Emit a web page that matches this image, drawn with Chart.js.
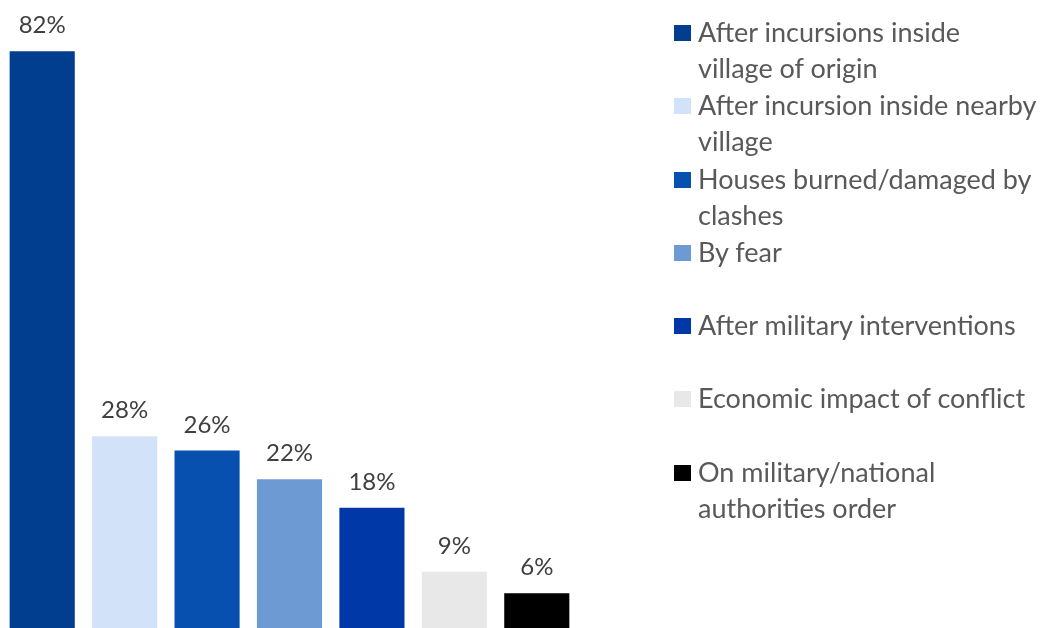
<!DOCTYPE html>
<html>
<head>
<meta charset="utf-8">
<script src="https://cdn.jsdelivr.net/npm/chart.js@4.4.0/dist/chart.umd.min.js"></script>
<style>
  html, body { margin: 0; padding: 0; background: #fff; overflow: hidden; }
  #wrap { position: relative; width: 1044px; height: 640px; }
  #legend { position: absolute; left: 674px; top: 15px; font-family: Lato, sans-serif; font-size: 27px; color: #595959; }
  .item { position: relative; height: 73.3px; }
  .box { position: absolute; left: 0; top: 10px; width: 17px; height: 16px; }
  .txt { position: absolute; left: 24px; top: -1px; line-height: 36px; white-space: nowrap; }
</style>
</head>
<body>
<div id="wrap">
  <canvas id="chart" width="1044" height="640"></canvas>
  <div id="legend"></div>
</div>
<script>
// reasons for displacement, in % of respondents
const categories = [
  ["After incursions inside", "village of origin"],
  ["After incursion inside nearby", "village"],
  ["Houses burned/damaged by", "clashes"],
  ["By fear"],
  ["After military interventions"],
  ["Economic impact of conflict"],
  ["On military/national", "authorities order"]
];
const values = [82, 28, 26, 22, 18, 9, 6];
const colors = ["#023E8F", "#D2E3F9", "#0750B0", "#6E9AD4", "#0038A8", "#E8E8E8", "#000000"];

// legend on the right
let legend = document.getElementById("legend");
categories.forEach((c, i) => {
    let item = document.createElement("div");
    item.className = "item";
    item.innerHTML = '<div class="box" style="background:' + colors[i] + '"></div>' +
        '<div class="txt">' + c.join("<br>") + '</div>';
    legend.appendChild(item);
});

// percent labels above the bars
const barLabels = {
    id: "barLabels",
    afterDatasetsDraw(chart) {
        const ctx = chart.ctx;
        ctx.save();
        ctx.font = "24px Lato, sans-serif";
        ctx.fillStyle = "#404040";
        ctx.textAlign = "center";
        ctx.textBaseline = "alphabetic";
        chart.getDatasetMeta(0).data.forEach((bar, i) => {
            ctx.fillText(values[i] + "%", bar.x, bar.y - 18);
        });
        ctx.restore();
    }
};

new Chart(document.getElementById("chart"), {
    type: "bar",
    data: {
        labels: categories,
        datasets: [{
            data: values,
            backgroundColor: colors,
            barPercentage: 0.79,
            categoryPercentage: 1
        }]
    },
    options: {
        responsive: false,
        animation: false,
        layout: { padding: { left: 1, right: 466, top: 0, bottom: 4 } },
        plugins: { legend: { display: false }, tooltip: { enabled: false } },
        scales: {
            x: { display: false },
            y: { display: false, min: 0, max: 89.2 }
        }
    },
    plugins: [barLabels]
});
</script>
</body>
</html>
